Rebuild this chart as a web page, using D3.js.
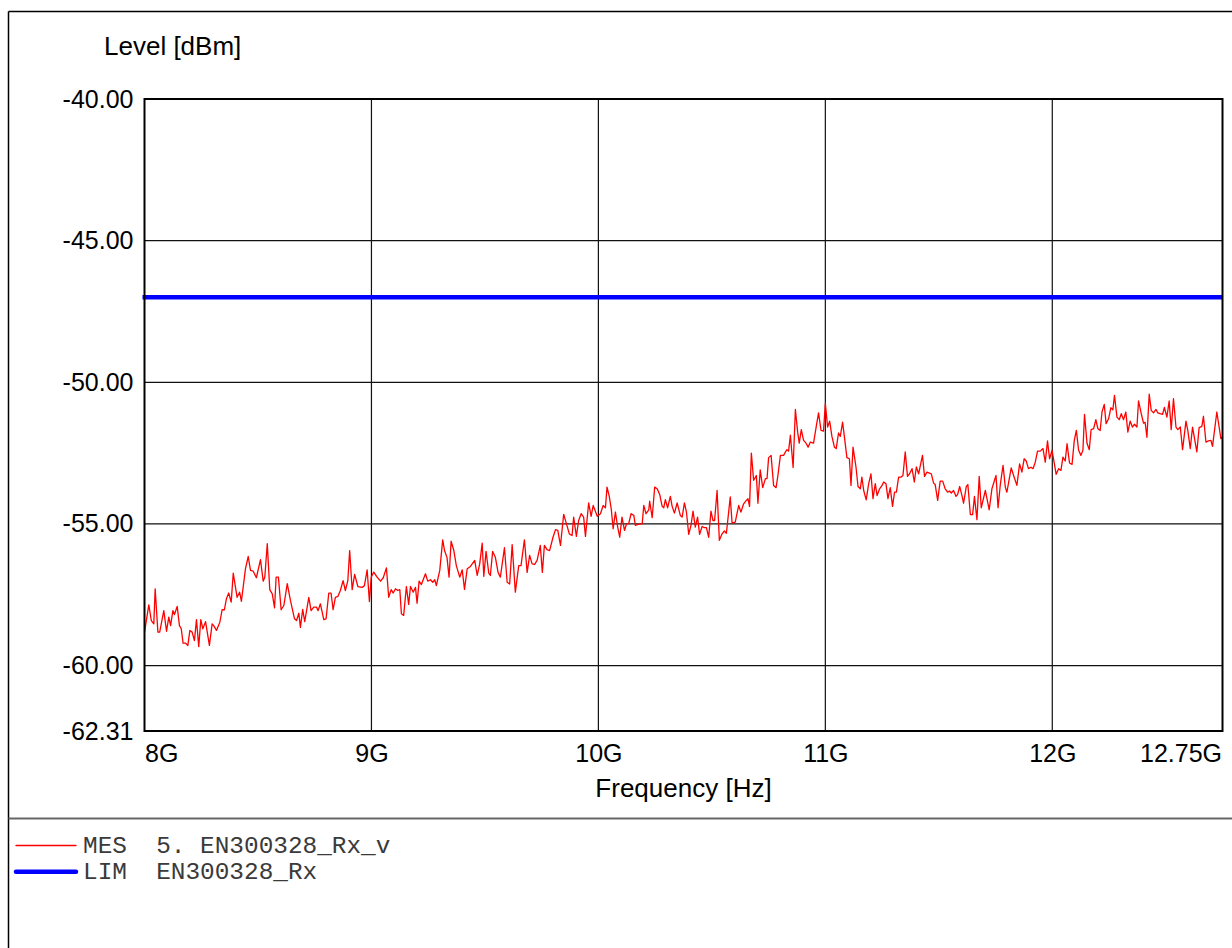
<!DOCTYPE html>
<html>
<head>
<meta charset="utf-8">
<script src="https://cdn.jsdelivr.net/npm/d3@7"></script>
<style>
  html, body { margin: 0; padding: 0; background: #fff; }
  svg { display: block; }
  text { font-family: "Liberation Sans", Arial, sans-serif; fill: #000; }
  .mono { font-family: "Liberation Mono", "Courier New", monospace; white-space: pre; fill: #3a3a3a; }
</style>
</head>
<body>
<script>
// ---------------- data ----------------
const yTicks = [-40, -45, -50, -55, -60, -62.31];
const xTicks = [8, 9, 10, 11, 12, 12.75];            // GHz
const xTickLabels = ["8G", "9G", "10G", "11G", "12G", "12.75G"];
const xDomain = [8, 12.75];
const yDomain = [-62.31, -40];
const limitLevel = -47.0;                              // dBm, LIM EN300328_Rx
const legendNames = ["MES  5. EN300328_Rx_v", "LIM  EN300328_Rx"];

// measured trace: frequency (GHz)
const freqGHz = [
  8.000,8.019,8.030,8.041,8.047,8.059,8.067,8.085,8.097,8.107,8.115,8.125,8.132,8.144,8.154,8.162,8.170,8.181,8.191,8.200,
  8.210,8.220,8.229,8.239,8.248,8.257,8.269,8.286,8.298,8.305,8.317,8.332,8.342,8.352,8.361,8.371,8.382,8.391,8.408,8.419,
  8.427,8.445,8.457,8.467,8.479,8.493,8.511,8.523,8.530,8.541,8.552,8.563,8.573,8.580,8.590,8.602,8.614,8.629,8.643,8.661,
  8.670,8.680,8.687,8.697,8.706,8.724,8.734,8.746,8.758,8.765,
  8.775,8.790,8.800,8.812,8.822,8.831,8.841,8.852,8.863,8.875,8.885,8.896,8.904,8.915,8.926,8.940,8.959,8.969,8.981,8.991,
  8.999,9.010,9.025,9.040,9.052,9.066,9.076,9.087,9.096,9.106,9.116,9.125,9.132,9.142,9.154,9.164,9.172,9.184,9.194,9.201,
  9.210,9.220,9.238,9.248,9.260,9.270,9.279,9.286,9.301,9.314,9.322,9.333,9.342,9.351,9.363,9.374,9.389,9.400,9.410,9.422,
  9.436,9.455,9.466,9.477,9.488,9.495,9.505,9.517,9.524,9.534,9.546,9.558,9.568,
  9.586,9.598,9.609,9.620,9.634,9.649,9.659,9.674,9.686,9.697,9.708,9.719,9.730,9.744,9.753,9.762,9.774,9.785,9.800,9.811,
  9.821,9.833,9.847,9.859,9.872,9.884,9.891,9.903,9.913,9.924,9.935,9.943,9.957,9.968,9.977,9.995,10.009,10.021,10.031,10.038,
  10.048,10.057,10.065,10.075,10.085,10.094,10.104,10.115,10.123,10.134,10.144,10.156,10.163,10.175,10.193,10.200,10.210,10.222,10.226,10.237,
  10.248,10.259,10.270,10.281,10.288,10.295,10.305,10.317,10.325,10.335,10.347,10.361,
  10.369,10.379,10.388,10.398,10.408,10.417,10.427,10.437,10.446,10.457,10.467,10.476,10.486,10.496,10.505,10.512,10.523,10.533,10.545,10.555,
  10.564,10.581,10.589,10.603,10.618,10.628,10.640,10.652,10.659,10.666,10.674,10.684,10.696,10.703,10.713,10.724,10.736,10.743,10.750,10.761,
  10.772,10.783,10.791,10.802,10.816,10.824,10.831,10.838,10.846,10.858,10.868,10.878,10.885,10.894,10.904,10.915,10.924,10.934,10.948,10.960,
  10.970,10.981,10.992,11.000,11.010,11.019,11.029,11.040,11.048,11.058,11.066,11.076,11.085,11.095,11.106,11.113,11.122,11.135,11.144,11.154,
  11.161,11.169,11.180,11.191,11.201,11.210,11.220,11.228,11.239,11.250,11.257,11.267,11.276,11.286,11.296,11.305,11.313,11.323,11.333,11.342,
  11.352,11.362,11.371,11.382,11.392,11.401,11.411,11.428,11.437,11.448,11.459,11.467,11.477,11.484,11.495,11.506,11.517,11.528,11.539,11.547,
  11.555,11.565,11.576,11.583,11.592,11.602,11.609,11.621,11.628,11.639,11.649,11.657,11.668,11.678,11.687,11.705,11.722,11.734,11.752,11.761,
  11.771,11.783,11.793,11.800,11.819,11.832,11.844,11.856,11.866,11.876,11.885,11.895,11.906,11.915,11.925,11.935,11.947,
  11.959,11.969,11.979,11.988,11.999,12.009,12.017,12.028,12.038,12.047,12.057,12.065,12.076,12.087,12.097,12.106,12.116,12.126,12.135,12.142,
  12.153,12.163,12.171,12.182,12.192,12.201,12.211,12.219,12.229,12.237,12.248,12.258,12.267,12.274,12.285,12.295,12.304,12.314,12.324,12.333,
  12.343,12.353,12.362,12.373,12.380,12.392,12.402,12.409,12.417,12.427,12.436,12.446,12.457,12.465,12.475,12.486,12.494,12.505,12.515,12.524,
  12.534,12.545,12.553,12.564,12.574,12.589,12.597,12.608,12.618,12.637,12.647,12.659,12.666,12.677,12.688,12.699,12.706,12.725,12.743,12.750
];

// measured trace: level (dBm)
const levelDbm = [
  -58.82,-57.86,-58.41,-58.53,-57.29,-58.82,-58.82,-58.06,-58.79,-58.29,-58.59,-58.06,-58.20,-57.91,-58.59,-58.70,-59.21,-59.21,-59.29,-58.76,
  -58.82,-59.12,-58.38,-59.33,-58.38,-58.70,-58.45,-59.29,-58.53,-58.59,-58.76,-58.47,-58.03,-58.03,-57.64,-57.44,-57.76,-56.74,-57.59,-57.41,
  -57.73,-56.58,-56.15,-56.64,-56.67,-56.90,-56.26,-57.02,-56.88,-55.70,-57.32,-57.47,-57.96,-56.88,-56.88,-58.03,-57.88,-57.11,-57.70,-58.35,
  -58.41,-58.15,-58.65,-58.02,-58.45,-57.59,-58.06,-57.94,-57.94,-58.06,
  -57.82,-58.38,-58.35,-57.44,-57.44,-58.03,-57.59,-57.56,-57.35,-57.00,-57.35,-57.00,-55.94,-57.32,-56.78,-57.21,-57.24,-57.18,-56.62,-57.74,
  -56.88,-56.70,-56.88,-57.02,-56.90,-56.55,-57.59,-57.32,-57.44,-57.29,-57.35,-57.32,-58.17,-58.23,-57.21,-57.84,-57.21,-57.41,-57.24,-57.80,
  -57.02,-57.14,-56.76,-57.02,-56.97,-57.06,-56.97,-57.18,-56.64,-55.56,-55.94,-56.19,-56.88,-55.61,-55.94,-56.47,-56.88,-56.62,-57.31,-56.58,
  -56.50,-56.29,-56.82,-56.41,-55.68,-56.85,-55.97,-56.74,-56.82,-55.97,-56.18,-56.71,-56.88,
  -55.84,-57.06,-57.12,-55.73,-57.41,-56.47,-56.47,-55.56,-56.71,-56.11,-56.41,-56.43,-56.29,-55.76,-56.71,-55.76,-55.91,-55.94,-55.47,-55.20,
  -55.23,-55.76,-54.66,-54.99,-55.35,-55.41,-54.76,-55.44,-54.88,-54.64,-54.76,-55.44,-54.26,-54.73,-54.35,-54.73,-54.64,-54.35,-54.43,-53.70,
  -54.03,-54.50,-55.17,-54.58,-55.11,-55.47,-54.76,-55.23,-55.02,-54.97,-54.64,-54.70,-55.05,-55.02,-54.99,-54.35,-54.64,-54.50,-54.20,-54.78,
  -53.70,-53.76,-53.96,-54.38,-54.43,-54.14,-54.43,-54.03,-54.38,-54.62,-54.26,-54.70,
  -54.76,-54.26,-54.58,-55.37,-55.05,-54.55,-55.11,-54.76,-55.37,-55.09,-55.13,-55.13,-55.47,-54.55,-54.88,-54.88,-53.82,-55.58,-55.35,-55.25,
  -55.33,-54.05,-54.97,-54.94,-54.35,-54.58,-54.29,-54.17,-54.11,-54.38,-52.50,-53.46,-53.29,-54.27,-53.09,-53.72,-53.40,-53.40,-52.66,-52.58,
  -53.64,-53.72,-53.29,-52.58,-52.58,-52.46,-52.38,-52.43,-51.87,-53.01,-50.96,-51.76,-52.15,-51.67,-52.05,-52.15,-52.29,-52.11,-52.15,-51.56,
  -51.08,-51.70,-51.72,-50.75,-51.58,-51.37,-51.91,-52.29,-52.34,-51.79,-51.91,-51.41,-51.99,-52.66,-52.70,-53.64,-52.29,-52.99,-53.68,-53.76,
  -53.35,-53.82,-54.15,-53.58,-53.23,-54.11,-53.58,-54.00,-53.76,-53.64,-53.52,-53.58,-54.11,-53.72,-54.38,-53.88,-53.88,-53.35,-53.35,-53.29,
  -52.46,-53.32,-53.23,-53.05,-53.52,-52.99,-53.23,-52.58,-53.32,-53.17,-53.21,-53.23,-53.56,-53.61,-54.17,-53.49,-53.49,-53.76,-53.88,-53.84,
  -53.91,-53.82,-54.03,-53.96,-53.68,-54.00,-54.27,-53.68,-53.61,-54.67,-54.67,-54.03,-54.85,-53.32,-54.43,-53.82,-54.50,-53.76,-53.29,-54.43,
  -53.61,-52.93,-53.70,-53.88,-53.02,-53.35,-53.64,-52.88,-53.17,-52.70,-52.78,-53.05,-53.00,-53.05,-52.82,-52.43,-52.43,
  -52.34,-52.82,-52.07,-52.70,-52.40,-52.87,-53.25,-53.05,-53.11,-52.64,-52.78,-52.17,-52.85,-52.90,-52.05,-51.70,-52.40,-52.58,-52.40,-51.13,
  -52.15,-52.38,-51.67,-51.64,-51.32,-51.64,-51.70,-51.05,-50.78,-51.46,-51.29,-50.90,-50.97,-50.46,-51.23,-51.32,-51.11,-51.32,-51.05,-51.76,
  -51.37,-51.58,-51.48,-51.58,-50.66,-51.11,-51.44,-51.41,-51.94,-50.42,-50.99,-51.08,-50.96,-51.08,-51.11,-51.13,-50.89,-51.23,-50.66,-51.67,
  -50.58,-51.58,-51.67,-51.58,-52.38,-51.37,-51.70,-52.34,-51.58,-52.46,-51.60,-51.56,-51.20,-52.11,-52.07,-52.05,-52.26,-51.05,-51.99,-51.94
];

// ---------------- layout ----------------
const W = 1232, H = 948;
const plot = { left: 144.5, right: 1222.5, top: 99, bottom: 731 };

const svg = d3.select("body").append("svg").attr("width", W).attr("height", H);

const x = d3.scaleLinear().domain(xDomain).range([plot.left, plot.right]);
const y = d3.scaleLinear().domain(yDomain).range([plot.bottom, plot.top]);

// outer frame
svg.append("line").attr("x1", 8.5).attr("x2", W).attr("y1", 11.5).attr("y2", 11.5)
  .attr("stroke", "#000").attr("stroke-width", 1.5);
svg.append("line").attr("x1", 8.5).attr("x2", 8.5).attr("y1", 11.5).attr("y2", H)
  .attr("stroke", "#000").attr("stroke-width", 1.5);
svg.append("line").attr("x1", 8.5).attr("x2", W).attr("y1", 818.5).attr("y2", 818.5)
  .attr("stroke", "#666").attr("stroke-width", 2);

// grid lines
const gridX = xTicks.filter(d => d > xDomain[0] && d < xDomain[1]);
const gridY = yTicks.filter(d => d > yDomain[0] && d < yDomain[1]);
svg.append("g").selectAll("line").data(gridX).join("line")
  .attr("x1", d => x(d)).attr("x2", d => x(d))
  .attr("y1", plot.top).attr("y2", plot.bottom)
  .attr("stroke", "#111").attr("stroke-width", 1.2);
svg.append("g").selectAll("line").data(gridY).join("line")
  .attr("x1", plot.left).attr("x2", plot.right)
  .attr("y1", d => y(d)).attr("y2", d => y(d))
  .attr("stroke", "#111").attr("stroke-width", 1.2);

// clip
svg.append("clipPath").attr("id", "clip").append("rect")
  .attr("x", plot.left - 3).attr("y", plot.top).attr("width", plot.right - plot.left + 3).attr("height", plot.bottom - plot.top);

// limit line
svg.append("line")
  .attr("x1", x(xDomain[0]) - 2).attr("x2", x(xDomain[1]))
  .attr("y1", y(limitLevel)).attr("y2", y(limitLevel))
  .attr("stroke", "#0000ff").attr("stroke-width", 4.5);

// measured trace
const pts = d3.zip(freqGHz, levelDbm);
svg.append("path").datum(pts)
  .attr("clip-path", "url(#clip)")
  .attr("fill", "none").attr("stroke", "#ff0000").attr("stroke-width", 1.3)
  .attr("stroke-linejoin", "round")
  .attr("d", d3.line().x(d => x(d[0])).y(d => y(d[1])));

// plot border
svg.append("rect")
  .attr("x", plot.left).attr("y", plot.top)
  .attr("width", plot.right - plot.left).attr("height", plot.bottom - plot.top)
  .attr("fill", "none").attr("stroke", "#000").attr("stroke-width", 2);

// axes (labels only)
const yAxis = d3.axisLeft(y).tickValues(yTicks).tickFormat(d => d.toFixed(2)).tickSize(0).tickPadding(11);
const gy = svg.append("g").attr("transform", `translate(${plot.left},0)`).call(yAxis);
gy.select(".domain").remove();
gy.selectAll("text").attr("font-size", 25).attr("font-family", "Liberation Sans, Arial, sans-serif").attr("fill", "#000");

const xAxis = d3.axisBottom(x).tickValues(xTicks).tickFormat((d, i) => xTickLabels[i]).tickSize(0).tickPadding(13);
const gx = svg.append("g").attr("transform", `translate(0,${plot.bottom})`).call(xAxis);
gx.select(".domain").remove();
gx.selectAll("text").attr("font-size", 25).attr("font-family", "Liberation Sans, Arial, sans-serif").attr("fill", "#000")
  .attr("text-anchor", (d, i) => i === 0 ? "start" : (i === xTicks.length - 1 ? "end" : "middle"))
  .attr("dx", (d, i) => i === xTicks.length - 1 ? -1 : 0);

// axis titles
svg.append("text").attr("x", 104).attr("y", 55).attr("font-size", 26).text("Level [dBm]");
svg.append("text").attr("x", (plot.left + plot.right) / 2).attr("y", 797)
  .attr("text-anchor", "middle").attr("font-size", 26).text("Frequency [Hz]");

// legend
const legendStyles = [
  { color: "#ff0000", width: 1.3, y: 845.5 },
  { color: "#0000ff", width: 4.5, y: 871.7 }
];
const lg = svg.append("g");
lg.selectAll("line").data(legendNames).join("line")
  .attr("x1", 16).attr("x2", 76)
  .attr("y1", (d, i) => legendStyles[i].y).attr("y2", (d, i) => legendStyles[i].y)
  .attr("stroke", (d, i) => legendStyles[i].color)
  .attr("stroke-width", (d, i) => legendStyles[i].width)
  .attr("stroke-linecap", "round");
lg.selectAll("text").data(legendNames).join("text")
  .attr("class", "mono")
  .attr("x", 83).attr("y", (d, i) => legendStyles[i].y + 7.5)
  .attr("font-size", 24.4)
  .text(d => d);
</script>
</body>
</html>
